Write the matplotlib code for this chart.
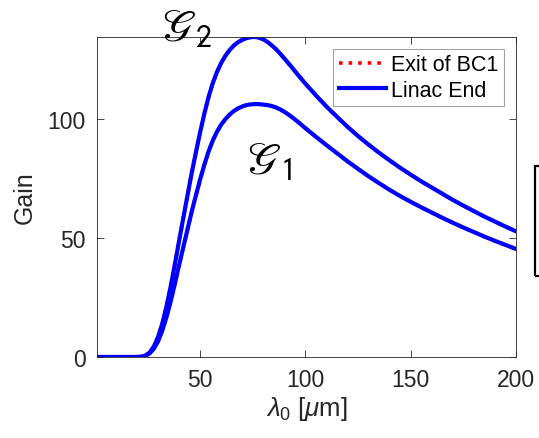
import matplotlib
matplotlib.use("Agg")
import matplotlib.pyplot as plt
from matplotlib.patches import Rectangle

plt.rcParams['font.family'] = ['Liberation Sans', 'DejaVu Sans']
plt.rcParams['mathtext.fontset'] = 'custom'
plt.rcParams['mathtext.rm'] = 'Liberation Sans'
plt.rcParams['mathtext.it'] = 'Liberation Sans:italic'

# Wavelength samples [um]
wavelength = [1, 20, 22, 24, 26, 28, 30, 32, 34, 36, 38, 40, 42, 44, 46, 48,
              50, 52, 54, 56, 58, 60, 62, 64, 66, 68, 70, 72, 74, 76, 78, 80,
              82, 84, 86, 88, 90, 92, 94, 96, 98, 100, 105, 110, 115, 120,
              125, 130, 135, 140, 145, 150, 155, 160, 165, 170, 175, 180,
              185, 190, 195, 200]

# Gain at the exit of BC1 (G1)
gain_g1 = [0, 0, 0.08, 0.47, 1.5, 3.5, 6.6, 11.1, 16.7, 23.4, 30.8, 38.6,
           46.1, 53.6, 61.1, 67.9, 74.6, 80.7, 86.3, 90.9, 94.6, 97.6, 99.9,
           101.8, 103.3, 104.4, 105.2, 105.8, 106.1, 106.2, 106.2, 106.0,
           105.8, 105.4, 104.8, 104.0, 103.0, 101.8, 100.5, 99.1, 97.6, 96.1,
           92.5, 89.0, 85.6, 82.2, 79.0, 75.9, 73.0, 70.2, 67.6, 65.2, 62.9,
           60.7, 58.5, 56.4, 54.4, 52.5, 50.6, 48.8, 47.1, 45.4]

# Gain at the linac end (G2)
gain_g2 = [0, 0, 0.1, 0.6, 1.9, 4.4, 8.4, 14.0, 21.2, 29.6, 39.0, 48.8,
           58.4, 67.9, 77.3, 86.0, 94.4, 102.2, 109.2, 115.0, 119.7, 123.5,
           126.5, 128.9, 130.8, 132.2, 133.2, 133.9, 134.3, 134.4, 134.1,
           133.4, 132.3, 130.9, 129.3, 127.4, 125.4, 123.3, 121.2, 119.0,
           116.9, 114.8, 109.9, 105.2, 100.9, 96.7, 92.8, 89.2, 85.8, 82.6,
           79.5, 76.6, 73.8, 71.2, 68.6, 66.0, 63.6, 61.3, 59.0, 56.9, 54.8,
           52.8]

xticks = [50, 100, 150, 200]
yticks = [0, 50, 100]

fig = plt.figure(figsize=(5.39, 4.39), dpi=100)
ax = fig.add_axes([0.180, 0.1845, 0.777, 0.729])

axis_gray = (0.15, 0.15, 0.15)

# BC1 exit curves drawn first, linac end curves on top
for g in (gain_g1, gain_g2):
    ax.plot(wavelength, g, color='red', linestyle=':', linewidth=2.6,
            label='Exit of BC1' if g is gain_g1 else None)
for g in (gain_g1, gain_g2):
    ax.plot(wavelength, g, color='blue', linewidth=3.0,
            label='Linac End' if g is gain_g1 else None)

ax.set_xlim(1, 200)
ax.set_ylim(0, max(gain_g2))
ax.set_xticks(xticks)
ax.set_yticks(yticks)
ax.tick_params(direction='in', top=True, right=True, length=5, width=0.6,
               labelsize=16.5, colors=axis_gray, pad=8)
for sp in ax.spines.values():
    sp.set_color(axis_gray)
    sp.set_linewidth(0.6)

ax.set_xlabel(r'$\lambda_0$ [$\mu$m]', fontsize=18.5, color=axis_gray, labelpad=2)
ax.set_ylabel('Gain', fontsize=18, color=axis_gray, labelpad=8)

leg = ax.legend(loc='upper right', fontsize=15.5, frameon=True, fancybox=False,
                borderaxespad=0.55, handlelength=2.2, handletextpad=0.25,
                borderpad=0.25, labelspacing=0.2)
leg.get_frame().set_edgecolor((0.55, 0.55, 0.55))
leg.get_frame().set_linewidth(0.8)
for t in leg.get_texts():
    t.set_color('black')

ax.text(43.5, 138, r'$\mathscr{G}_2$', fontsize=33, math_fontfamily='stixsans',
        ha='center', va='center', clip_on=False)
ax.text(82.5, 82, r'$\mathscr{G}_1$', fontsize=33, math_fontfamily='stixsans',
        ha='center', va='center', clip_on=False)

# Annotation box partly outside the canvas on the right
fig.patches.append(Rectangle((535 / 539, (439 - 277) / 439), 0.05, 110 / 439,
                             transform=fig.transFigure, fill=False,
                             edgecolor='black', linewidth=1.6))

fig.savefig('out.png', dpi=100)
